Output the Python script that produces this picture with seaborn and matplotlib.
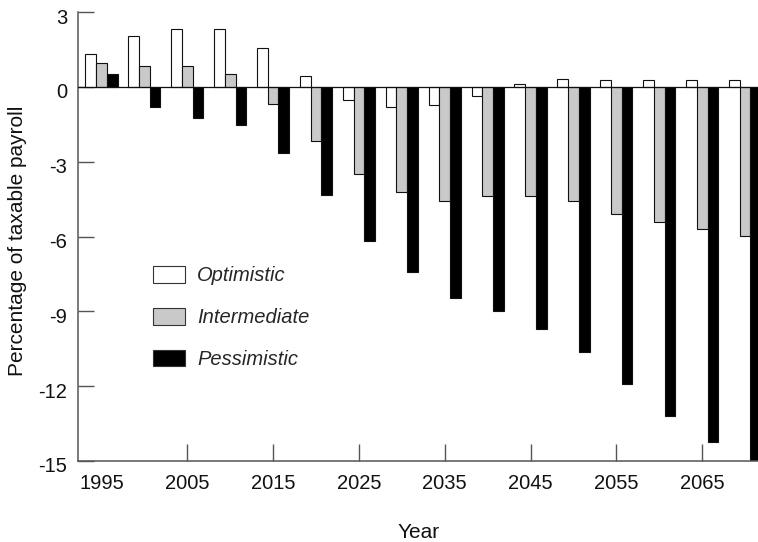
import matplotlib
matplotlib.use("Agg")
import matplotlib.pyplot as plt
import matplotlib.transforms as mtransforms
import seaborn as sns
import pandas as pd

years = [1995, 2000, 2005, 2010, 2015, 2020, 2025, 2030, 2035, 2040,
         2045, 2050, 2055, 2060, 2065, 2070]
scenarios = ["Optimistic", "Intermediate", "Pessimistic"]
optimistic = [1.30, 2.03, 2.33, 2.33, 1.57, 0.43, -0.51, -0.82, -0.74, -0.37,
              0.11, 0.32, 0.29, 0.29, 0.29, 0.29]
intermediate = [0.96, 0.83, 0.83, 0.52, -0.67, -2.18, -3.48, -4.22, -4.56, -4.39,
                -4.39, -4.59, -5.09, -5.42, -5.70, -5.97]
pessimistic = [0.50, -0.80, -1.24, -1.54, -2.65, -4.35, -6.20, -7.42, -8.45, -9.00,
               -9.70, -10.65, -11.90, -13.20, -14.25, -15.40]
tick_years = [1995, 2005, 2015, 2025, 2035, 2045, 2055, 2065]
y_ticks = [3, 0, -3, -6, -9, -12, -15]
colors = ["#ffffff", "#c9c9c9", "#000000"]

df = pd.DataFrame({
    "Year": years * 3,
    "Scenario": [s for s in scenarios for _ in years],
    "Value": optimistic + intermediate + pessimistic,
})

sns.set_theme(style="white")
plt.rcParams["font.family"] = ["Liberation Sans", "DejaVu Sans"]

W, H = 758, 542
fig = plt.figure(figsize=(W / 100, H / 100), dpi=100)
ax = fig.add_axes([78.3 / W, 1 - 461 / H, (W - 78.3) / W, (461 - 12) / H])

sns.barplot(data=df, x="Year", y="Value", hue="Scenario", order=years,
            hue_order=scenarios, palette=colors, width=0.75,
            edgecolor="#111111", linewidth=0.8, errorbar=None, ax=ax)

ax.set_xlim(-0.54, 15.30)
ax.set_ylim(-15, 3)
ax.axhline(0, color="#111111", linewidth=0.9, zorder=5)

for s in ["top", "right"]:
    ax.spines[s].set_visible(False)
for s in ["left", "bottom"]:
    ax.spines[s].set_color("#555555")
    ax.spines[s].set_linewidth(1.1)

tick_pos = [years.index(y) for y in tick_years]
ax.set_xticks(tick_pos)
ax.set_xticklabels([str(y) for y in tick_years])
ax.set_yticks(y_ticks)
ax.set_yticklabels([str(v) for v in y_ticks])
ax.tick_params(axis="x", direction="in", length=12, width=1.0, color="#555555",
               labelsize=14.5, pad=9.5, bottom=True)
ax.tick_params(axis="y", direction="in", length=11.5, width=1.0, color="#555555",
               labelsize=14.5, pad=8, left=True)
ax.xaxis.get_major_ticks()[0].tick1line.set_visible(False)
for lab in ax.get_yticklabels():
    lab.set_transform(lab.get_transform() +
                      mtransforms.ScaledTranslation(0, -4 / 100, fig.dpi_scale_trans))
for lab in ax.get_xticklabels() + ax.get_yticklabels():
    lab.set_color("#111111")

ax.set_xlabel("Year", fontsize=15, color="#111111", va="center")
ax.xaxis.set_label_coords(0.5, (461 - 533) / 449)
ax.set_ylabel("Percentage of taxable payroll", fontsize=15, color="#111111",
              va="center")
ax.yaxis.set_label_coords((18 - 78.3) / (W - 78.3), 0.49)
ax.grid(False)

handles, labels = ax.get_legend_handles_labels()
leg = ax.legend(handles, labels, loc="upper left",
                bbox_to_anchor=(153 / W, 1 - 266 / H),
                bbox_transform=fig.transFigure, frameon=False,
                prop={"size": 14.5, "style": "italic"},
                handlelength=1.6, handleheight=0.9, handletextpad=0.6,
                labelspacing=1.12, borderpad=0, borderaxespad=0)
for h in leg.legend_handles:
    h.set_edgecolor("#333333")
    h.set_linewidth(0.8)

fig.savefig("out.png", dpi=100)
